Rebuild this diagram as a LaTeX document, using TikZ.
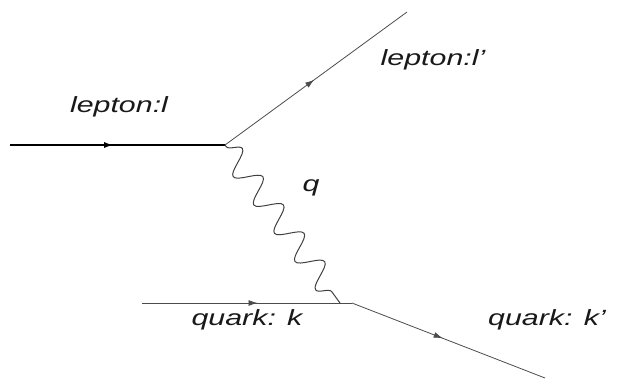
\documentclass[tikz,border=0pt]{standalone}
\usepackage{fontspec}
\setmainfont{Liberation Sans}
\usetikzlibrary{arrows.meta,decorations.markings,decorations.pathmorphing}
\tikzset{
  fermion/.style={black!70,line width=0.8pt,postaction={decorate},
    decoration={markings,mark=at position #1 with {\arrow{Latex[length=9pt,width=6pt]}}}},
  photon/.style={black!75,line width=1pt,decorate,
    decoration={snake,segment length=35pt,amplitude=12pt,pre length=2pt,post length=2pt}},
  lbl/.style={inner sep=0pt,black!90,font=\fontsize{22}{26}\selectfont\itshape}
}
\newcommand{\wide}[1]{\scalebox{1.38}[1]{#1}}
\begin{document}
\begin{tikzpicture}[x=1pt,y=-1pt]
  \useasboundingbox (0,0) rectangle (619,384);
  % vertices and free ends
  \coordinate (lin) at (10,145);
  \coordinate (vtop) at (225,145);
  \coordinate (lout) at (407,12);
  \coordinate (qin) at (142,303);
  \coordinate (vbot) at (352,303);
  \coordinate (pend) at (340,303);
  \coordinate (qout) at (545,378);
  % lines
  \draw[fermion=0.48,black,line width=1.4pt] (lin) -- (vtop);
  \draw[fermion=0.49] (vtop) -- (lout);
  \draw[fermion=0.55] (qin) -- (vbot);
  \draw[fermion=0.47] (vbot) -- (qout);
  \draw[photon] (vtop) -- (pend);
  % labels
  \node[lbl] (llep) at (119,107) {\wide{lepton:l}};
  \node[lbl] (llepp) at (433,60) {\wide{lepton:l’}};
  \node[lbl] (lq) at (311,188) {\wide{q}};
  \node[lbl] (lquark) at (247,320) {\wide{quark: k}};
  \node[lbl] (lquarkp) at (547,320) {\wide{quark: k’}};
\end{tikzpicture}
\end{document}
